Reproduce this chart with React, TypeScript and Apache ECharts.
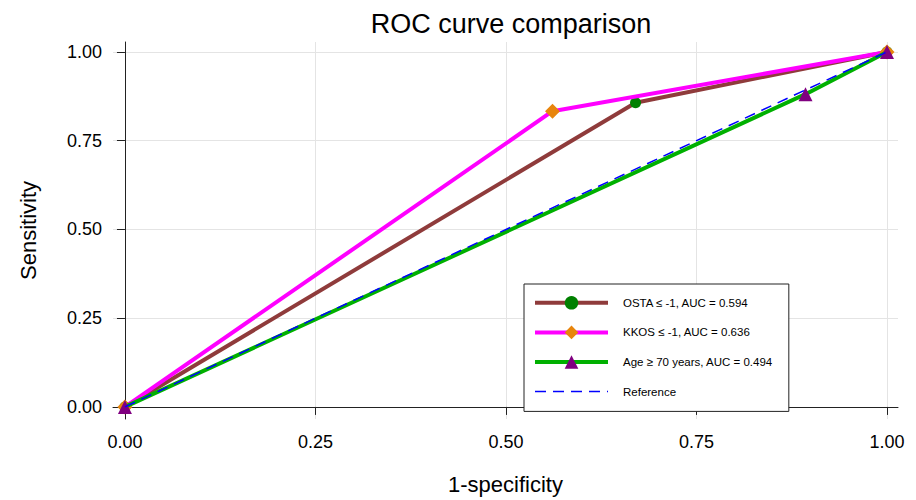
import React, { useEffect, useRef } from "react";
import * as echarts from "echarts";

const tickValues = [0, 0.25, 0.5, 0.75, 1];
const seriesNames = [
  "OSTA ≤ -1, AUC = 0.594",
  "KKOS ≤ -1, AUC = 0.636",
  "Age ≥ 70 years, AUC = 0.494",
  "Reference",
];
const ostaPoints = [
  [0, 0],
  [0.67, 0.857],
  [1, 1],
];
const kkosPoints = [
  [0, 0],
  [0.561, 0.833],
  [1, 1],
];
const agePoints = [
  [0, 0],
  [0.893, 0.881],
  [1, 1],
];
const referencePoints = [
  [0, 0],
  [1, 1],
];

const FONT = "'Liberation Sans', Arial, sans-serif";

export default function App() {
  const ref = useRef<HTMLDivElement>(null);
  useEffect(() => {
    if (!ref.current) return;
    const chart = echarts.init(ref.current, undefined, { renderer: "svg" });
    const axisCommon = {
      type: "value" as const,
      axisLine: { show: true, lineStyle: { color: "#222", width: 1 } },
      axisTick: { show: true, length: 8, lineStyle: { color: "#222" }, customValues: tickValues },
      splitLine: { show: true, lineStyle: { color: "#e4e4e4", width: 1 } },
      nameLocation: "middle" as const,
      nameTextStyle: { fontFamily: FONT, fontSize: 22, color: "#000" },
    };
    chart.setOption({
      animation: false,
      backgroundColor: "#fff",
      title: {
        text: "ROC curve comparison",
        left: 506,
        top: 5,
        textAlign: "center",
        textStyle: { fontFamily: FONT, fontSize: 27, fontWeight: "normal", color: "#000" },
      },
      grid: { left: 113, right: 18, top: 42, bottom: 80 },
      xAxis: {
        ...axisCommon,
        min: -0.0157,
        max: 1.0144,
        name: "1-specificity",
        nameGap: 54,
        axisLabel: {
          customValues: tickValues,
          formatter: (v: number) => v.toFixed(2),
          fontFamily: FONT,
          fontSize: 18,
          color: "#000",
          margin: 14,
        },
      },
      yAxis: {
        ...axisCommon,
        min: -0.034,
        max: 1.028,
        name: "Sensitivity",
        nameGap: 74,
        axisLabel: {
          customValues: tickValues,
          formatter: (v: number) => v.toFixed(2),
          fontFamily: FONT,
          fontSize: 18,
          color: "#000",
          margin: 11,
        },
      },
      legend: {
        orient: "vertical",
        left: 524,
        top: 284,
        itemWidth: 73,
        itemHeight: 17,
        itemGap: 16,
        padding: [12, 16, 13, 9],
        borderColor: "#222",
        borderWidth: 1,
        backgroundColor: "#fff",
        textStyle: { fontFamily: FONT, fontSize: 11.5, color: "#000", padding: [0, 0, 0, 10] },
        data: [
          { name: seriesNames[0], lineStyle: { width: 4 } },
          { name: seriesNames[1], lineStyle: { width: 4 } },
          { name: seriesNames[2], lineStyle: { width: 4 } },
          {
            name: seriesNames[3],
            lineStyle: { width: 1.5 },
            itemStyle: { color: "rgba(0,0,0,0)", borderWidth: 0 },
          },
        ],
      },
      series: [
        {
          name: seriesNames[0],
          type: "line",
          data: ostaPoints,
          symbol: "circle",
          symbolSize: 11,
          showAllSymbol: true,
          lineStyle: { color: "#8f3b3b", width: 4 },
          itemStyle: { color: "#008000" },
          z: 2,
        },
        {
          name: seriesNames[1],
          type: "line",
          data: kkosPoints,
          symbol: "diamond",
          symbolSize: 15,
          showAllSymbol: true,
          lineStyle: { color: "#ff00ff", width: 4 },
          itemStyle: { color: "#e8850c" },
          z: 3,
        },
        {
          name: seriesNames[2],
          type: "line",
          data: agePoints,
          symbol: "triangle",
          symbolSize: 14,
          showAllSymbol: true,
          lineStyle: { color: "#00b000", width: 4 },
          itemStyle: { color: "#800080" },
          z: 4,
        },
        {
          name: seriesNames[3],
          type: "line",
          data: referencePoints,
          symbol: "none",
          lineStyle: { color: "#0000ff", width: 1.5, type: [11, 7] },
          itemStyle: { color: "#0000ff" },
          z: 5,
        },
      ],
    });
    return () => chart.dispose();
  }, []);
  return (
    <div
      ref={ref}
      style={{ position: "absolute", left: 0, top: 0, width: 916, height: 500 }}
    />
  );
}
